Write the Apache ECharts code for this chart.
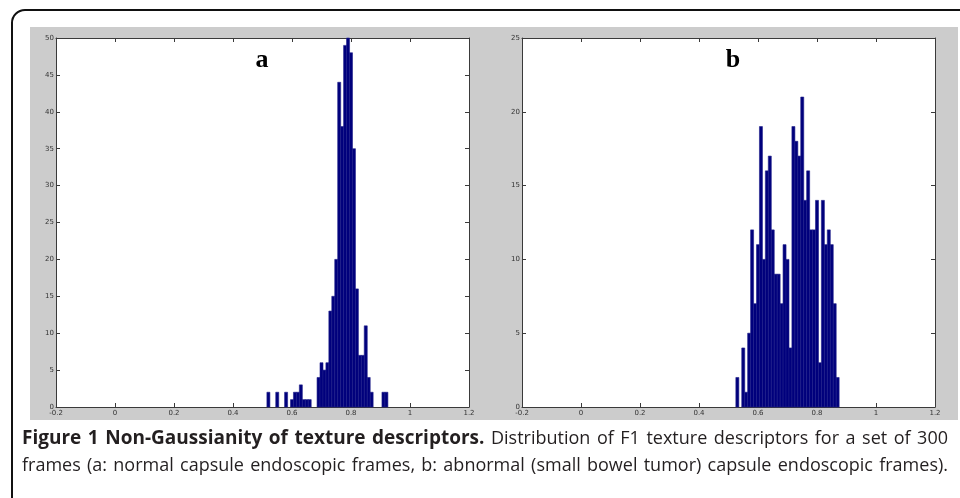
<!DOCTYPE html>
<html>
<head>
<meta charset="utf-8">
<script src="https://cdn.jsdelivr.net/npm/echarts@6/dist/echarts.min.js"></script>
<style>
html,body{margin:0;padding:0;background:#fff;}
#chart{width:960px;height:498px;}
</style>
</head>
<body>
<div id="chart"></div>
<script>
// ---- data ----
const binCentersA = [0.52,0.53,0.54,0.55,0.56,0.57,0.58,0.59,0.60,0.61,0.62,0.63,0.64,0.65,0.66,0.67,0.68,0.69,0.70,0.71,0.72,0.73,0.74,0.75,0.76,0.77,0.78,0.79,0.80,0.81,0.82,0.83,0.84,0.85,0.86,0.87,0.88,0.89,0.90,0.91,0.92];
const countsA     = [2,0,0,2,0,0,2,0,1,2,2,3,1,1,1,0,0,4,6,5,6,13,15,20,44,38,49,50,48,35,16,7,7,11,4,2,0,0,0,2,2];
const binCentersB = [0.53,0.54,0.55,0.56,0.57,0.58,0.59,0.60,0.61,0.62,0.63,0.64,0.65,0.66,0.67,0.68,0.69,0.70,0.71,0.72,0.73,0.74,0.75,0.76,0.77,0.78,0.79,0.80,0.81,0.82,0.83,0.84,0.85,0.86,0.87];
const countsB     = [2,0,4,1,5,12,7,11,19,10,16,17,12,9,9,7,11,10,4,19,18,17,21,14,16,12,12,14,3,14,11,12,11,7,2];
const binWidth = 0.0102;
const xTickLabels = ['-0.2','0','0.2','0.4','0.6','0.8','1','1.2'];
const yTickLabelsA = ['0','5','10','15','20','25','30','35','40','45','50'];
const yTickLabelsB = ['0','5','10','15','20','25'];
const panelLabels = ['a','b'];
const captionLine1 = 'Figure 1 Non-Gaussianity of texture descriptors. Distribution of F1 texture descriptors for a set of 300';
const captionLine2 = 'frames (a: normal capsule endoscopic frames, b: abnormal (small bowel tumor) capsule endoscopic frames).';
const captionBoldWords = 6;

// ---- chart ----
const chart = echarts.init(document.getElementById('chart'), null, {renderer:'canvas'});
const axisColor = '#3a3a3a';

function xAxes(gi){
  return [
    {type:'value', gridIndex:gi, position:'bottom', min:-0.2, max:1.2, interval:0.2,
     axisLine:{show:true, onZero:false, lineStyle:{color:axisColor,width:1}},
     axisTick:{show:true, inside:true, length:4, lineStyle:{color:axisColor}},
     axisLabel:{show:true, fontSize:7, color:'#333', margin:3, fontFamily:'DejaVu Sans',
       formatter:(v,i)=>xTickLabels[i]},
     splitLine:{show:false}},
    {type:'value', gridIndex:gi, position:'top', min:-0.2, max:1.2, interval:0.2,
     axisLine:{show:true, onZero:false, lineStyle:{color:axisColor,width:1}},
     axisTick:{show:true, inside:true, length:4, lineStyle:{color:axisColor}},
     axisLabel:{show:false}, splitLine:{show:false}}
  ];
}
function yAxes(gi, max, labels){
  return [
    {type:'value', gridIndex:gi, position:'left', min:0, max:max, interval:5,
     axisLine:{show:true, onZero:false, lineStyle:{color:axisColor,width:1}},
     axisTick:{show:true, inside:true, length:4, lineStyle:{color:axisColor}},
     axisLabel:{show:true, fontSize:7, color:'#333', margin:2, fontFamily:'DejaVu Sans',
       formatter:(v,i)=>labels[i]},
     splitLine:{show:false}},
    {type:'value', gridIndex:gi, position:'right', min:0, max:max, interval:5,
     axisLine:{show:true, onZero:false, lineStyle:{color:axisColor,width:1}},
     axisTick:{show:true, inside:true, length:4, lineStyle:{color:axisColor}},
     axisLabel:{show:false}, splitLine:{show:false}}
  ];
}
function histSeries(xi, yi, centers, counts){
  return {
    type:'custom', xAxisIndex:xi, yAxisIndex:yi,
    data: centers.map((c,i)=>[c, counts[i]]),
    encode:{x:0,y:1},
    renderItem:function(params, api){
      const x = api.value(0), y = api.value(1);
      if (!y) return null;
      const p0 = api.coord([x - binWidth/2, y]);
      const p1 = api.coord([x + binWidth/2, 0]);
      return {type:'rect',
        shape:{x:p0[0], y:p0[1], width:p1[0]-p0[0], height:p1[1]-p0[1]},
        style:{fill:'#00007c', stroke:'#1f1f8a', lineWidth:0.6}};
    },
    z:3
  };
}

// caption justification
const measureCtx = document.createElement('canvas').getContext('2d');
const capFont = '"Open Sans"';
const capSize = 18;
const capBoldSize = 19;
function captionElements(text, y, boldCount){
  const words = text.split(' ');
  const left = 22, right = 948;
  const fonts = words.map((w,i)=> i < boldCount ? ('bold ' + capBoldSize + 'px ' + capFont) : (capSize + 'px ' + capFont));
  const widths = words.map((w,i)=>{ measureCtx.font = fonts[i]; return measureCtx.measureText(w).width; });
  const total = widths.reduce((a,b)=>a+b,0);
  const gap = Math.max(3, (right - left - total) / (words.length - 1));
  let x = left;
  return words.map((w,i)=>{
    const el = {type:'text', x:x, y:y + (i < boldCount ? -1 : 0), z:10,
      style:{text:w, font:fonts[i], fill:'#231f20', textVerticalAlign:'top', textAlign:'left'}};
    x += widths[i] + gap;
    return el;
  });
}

const graphics = [
  {type:'rect', z:-10, shape:{x:12, y:10, width:1100, height:700, r:13},
   style:{fill:'#ffffff', stroke:'#111', lineWidth:2}},
  {type:'rect', z:-9, shape:{x:30, y:27, width:928, height:393},
   style:{fill:'#cccccc'}},
  {type:'text', z:10, x:262, y:60, style:{text:panelLabels[0], font:'bold 26px "Liberation Serif"', fill:'#000', textAlign:'center', textVerticalAlign:'middle'}},
  {type:'text', z:10, x:733, y:60, style:{text:panelLabels[1], font:'bold 26px "Liberation Serif"', fill:'#000', textAlign:'center', textVerticalAlign:'middle'}}
].concat(captionElements(captionLine1, 430, captionBoldWords))
 .concat(captionElements(captionLine2, 457, 0));

chart.setOption({
  animation:false,
  backgroundColor:'#ffffff',
  grid:[
    {left:56, top:38, width:413, height:369, show:true, backgroundColor:'#ffffff', borderWidth:0},
    {left:522, top:38, width:413, height:369, show:true, backgroundColor:'#ffffff', borderWidth:0}
  ],
  xAxis: xAxes(0).concat(xAxes(1)),
  yAxis: yAxes(0, 50, yTickLabelsA).concat(yAxes(1, 25, yTickLabelsB)),
  series:[
    histSeries(0, 0, binCentersA, countsA),
    histSeries(2, 2, binCentersB, countsB)
  ],
  graphic: graphics
});
</script>
</body>
</html>
